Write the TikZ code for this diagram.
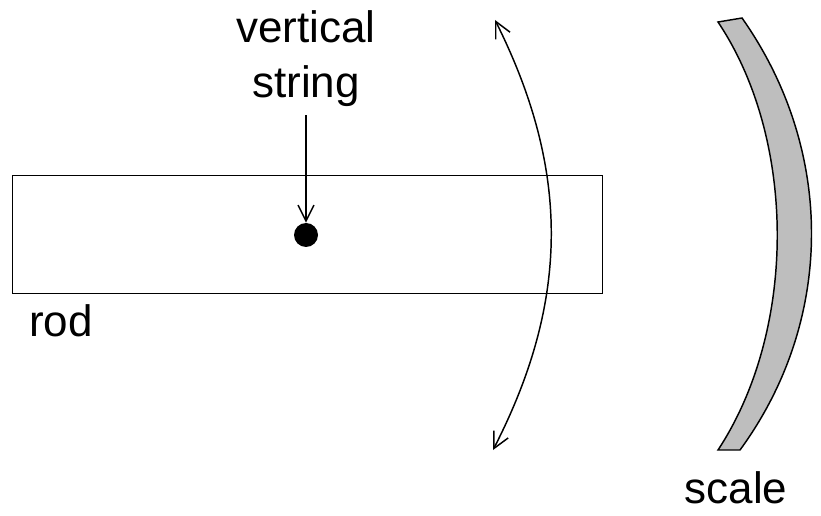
\documentclass[tikz,border=0pt]{standalone}
\usepackage{fontspec}
\setmainfont{Liberation Sans}
\usetikzlibrary{arrows.meta}
\definecolor{scalegray}{RGB}{190,190,190}
\tikzset{lbl/.style={font=\fontsize{33}{38}\selectfont, inner sep=0pt},
  thin line/.style={line width=1.1pt},
  tip/.style={-{Straight Barb[length=12pt,width=12pt]}}}
\begin{document}
\begin{tikzpicture}[x=0.75pt,y=-0.75pt]
\useasboundingbox (0,0) rectangle (821,516);
\node[draw, thin line, minimum width=590*0.75pt, minimum height=118*0.75pt, inner sep=0pt, anchor=north west] (rod) at (12,175) {};
\node[circle, fill=black, minimum size=24*0.75pt, inner sep=0pt] (pivot) at (306,235) {};
\node[lbl, anchor=base] (t1) at (306,43) {vertical};
\node[lbl, anchor=base] (t2) at (306,98) {string};
\draw[thin line, tip] (t2.south) ++(0,-6pt) -- (pivot.north);
\node[lbl, anchor=base west] (rodl) at (29,337) {rod};
\node[lbl, anchor=base] (scl) at (736,503) {scale};
\coordinate (a1) at (495,20);
\coordinate (a2) at (493,450);
\draw[thin line, {Straight Barb[length=12pt,width=12pt]}-{Straight Barb[length=12pt,width=12pt]}] (a1) .. controls (570,170) and (570,300) .. (a2);
\draw[thin line, fill=scalegray] (718,22) -- (742,18) .. controls (835,150) and (835,320) .. (740,450) -- (718,450) .. controls (797,330) and (797,140) .. (718,22) -- cycle;
\end{tikzpicture}
\end{document}
